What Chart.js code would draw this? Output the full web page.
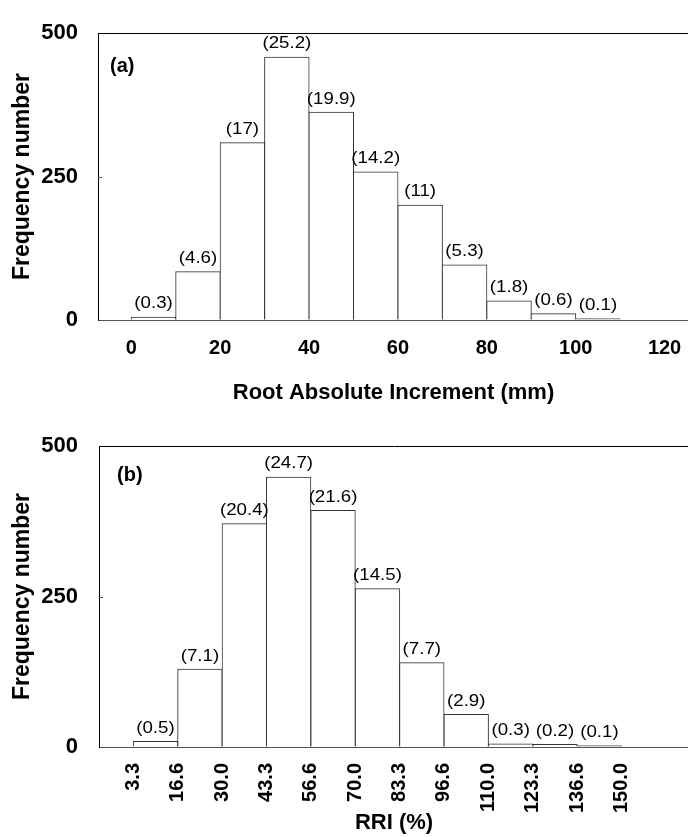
<!DOCTYPE html>
<html>
<head>
<meta charset="utf-8">
<script src="https://cdn.jsdelivr.net/npm/chart.js@4.4.0/dist/chart.umd.min.js"></script>
<style>
  html, body { margin: 0; padding: 0; background: #fff; width: 688px; height: 837px; overflow: hidden; }
  canvas { display: block; }
</style>
</head>
<body>
<canvas id="chartA" width="690" height="410"></canvas>
<canvas id="chartB" width="690" height="427"></canvas>
<script>
// panel (a): root absolute increment, bins of 10 mm
const binEdgesA = [0, 10, 20, 30, 40, 50, 60, 70, 80, 90, 100, 110];
const countsA = [5, 84, 309, 458, 362, 258, 200, 96, 33, 11, 2];
const pctA = [0.3, 4.6, 17, 25.2, 19.9, 14.2, 11, 5.3, 1.8, 0.6, 0.1];
const ticksA = [0, 20, 40, 60, 80, 100, 120];

// panel (b): RRI (%)
const binEdgesB = [3.3, 16.6, 30.0, 43.3, 56.6, 70.0, 83.3, 96.6, 110.0, 123.3, 136.6, 150.0];
const countsB = [9, 129, 371, 448, 393, 263, 140, 54, 5, 4, 2];
const pctB = [0.5, 7.1, 20.4, 24.7, 21.6, 14.5, 7.7, 2.9, 0.3, 0.2, 0.1];
const ticksB = binEdgesB;

const yTicks = [0, 250, 500];

Chart.defaults.font.family = "'Liberation Sans', Arial, sans-serif";
Chart.defaults.color = '#000';

function histPoints(edges, counts) {
    return counts.map((c, i) => ({ x: (edges[i] + edges[i + 1]) / 2, y: c }));
}

// percentages above the bars, the (a)/(b) tag and the small inner tick at 250
const barLabels = {
    id: 'barLabels',
    afterDatasetsDraw(chart, args, opts) {
        const ctx = chart.ctx;
        const meta = chart.getDatasetMeta(0);
        const area = chart.chartArea;
        ctx.save();
        ctx.fillStyle = '#000';
        ctx.font = "17px 'Liberation Sans', Arial, sans-serif";
        ctx.textAlign = 'center';
        ctx.textBaseline = 'bottom';
        meta.data.forEach((bar, i) => {
            ctx.save();
            ctx.translate(bar.x, bar.y - 5);
            ctx.scale(1.1, 1);
            ctx.fillText('(' + opts.pct[i] + ')', 0, 0);
            ctx.restore();
        });
        ctx.font = "bold 20px 'Liberation Sans', Arial, sans-serif";
        ctx.textAlign = 'left';
        ctx.textBaseline = 'middle';
        ctx.fillText(opts.tag, area.left + opts.tagX, area.top + opts.tagY);

        const yMid = Math.round(chart.scales.y.getPixelForValue(250)) + 0.5;
        ctx.strokeStyle = '#555';
        ctx.lineWidth = 1;
        ctx.beginPath();
        ctx.moveTo(area.left, yMid);
        ctx.lineTo(area.left + 4, yMid);
        ctx.stroke();
        ctx.restore();
    }
};

function makeChart(id, cfg) {
    return new Chart(document.getElementById(id), {
        type: 'bar',
        data: {
            datasets: [{
                data: histPoints(cfg.edges, cfg.counts),
                backgroundColor: '#fff',
                borderColor: '#333',
                borderWidth: 1,
                inflateAmount: 0.5,
                barPercentage: 1,
                categoryPercentage: 1
            }]
        },
        options: {
            responsive: false,
            animation: false,
            layout: { padding: { top: cfg.top, left: 0, right: 1, bottom: 0 } },
            plugins: {
                legend: { display: false },
                tooltip: { enabled: false },
                barLabels: { pct: cfg.pct, tag: cfg.tag, tagX: cfg.tagX, tagY: cfg.tagY }
            },
            scales: {
                x: {
                    type: 'linear',
                    offset: false,
                    min: cfg.xMin,
                    max: cfg.xMax,
                    afterBuildTicks: s => { s.ticks = cfg.xTicks.map(v => ({ value: v })); },
                    afterFit: s => {
                        s.height = cfg.xHeight;
                        s.paddingLeft = 0;
                        s.paddingRight = 0;
                    },
                    grid: { display: false },
                    border: { display: true, color: '#555', width: 1 },
                    ticks: {
                        autoSkip: false,
                        padding: cfg.xPad,
                        minRotation: cfg.rot,
                        maxRotation: cfg.rot,
                        font: { size: 20, weight: 'bold' },
                        callback: cfg.fmt
                    },
                    title: {
                        display: true,
                        text: cfg.xTitle,
                        font: { size: 22, weight: 'bold' },
                        padding: { top: 0, bottom: cfg.titlePad }
                    }
                },
                y: {
                    min: 0,
                    max: 500,
                    afterBuildTicks: s => { s.ticks = yTicks.map(v => ({ value: v })); },
                    afterFit: s => { s.width = cfg.yWidth; },
                    grid: {
                        drawTicks: false,
                        color: c => (c.tick && c.tick.value === 500) ? '#000' : 'rgba(0,0,0,0)'
                    },
                    border: { display: true, color: '#000', width: 1 },
                    ticks: {
                        padding: cfg.yPad,
                        font: { size: 22, weight: 'bold' }
                    },
                    title: {
                        display: true,
                        text: 'Frequency number',
                        font: { size: 23, weight: 'bold' },
                        padding: { top: 9, bottom: 0 }
                    }
                }
            }
        },
        plugins: [barLabels]
    });
}

makeChart('chartA', {
    edges: binEdgesA, counts: countsA, pct: pctA,
    xTicks: ticksA, xMin: -7.5, xMax: 125.5,
    fmt: v => String(v), rot: 0,
    xTitle: 'Root Absolute Increment (mm)',
    top: 22, xHeight: 90, yWidth: 98, xPad: 8, yPad: 20, titlePad: 4,
    tag: '(a)', tagX: 12, tagY: 33
});

makeChart('chartB', {
    edges: binEdgesB, counts: countsB, pct: pctB,
    xTicks: ticksB, xMin: -7.0, xMax: 170.2,
    fmt: v => Number(v).toFixed(1), rot: 90,
    xTitle: 'RRI (%)',
    top: 36, xHeight: 90, yWidth: 99, xPad: 8, yPad: 21, titlePad: 1,
    tag: '(b)', tagX: 18, tagY: 29
});
</script>
</body>
</html>
